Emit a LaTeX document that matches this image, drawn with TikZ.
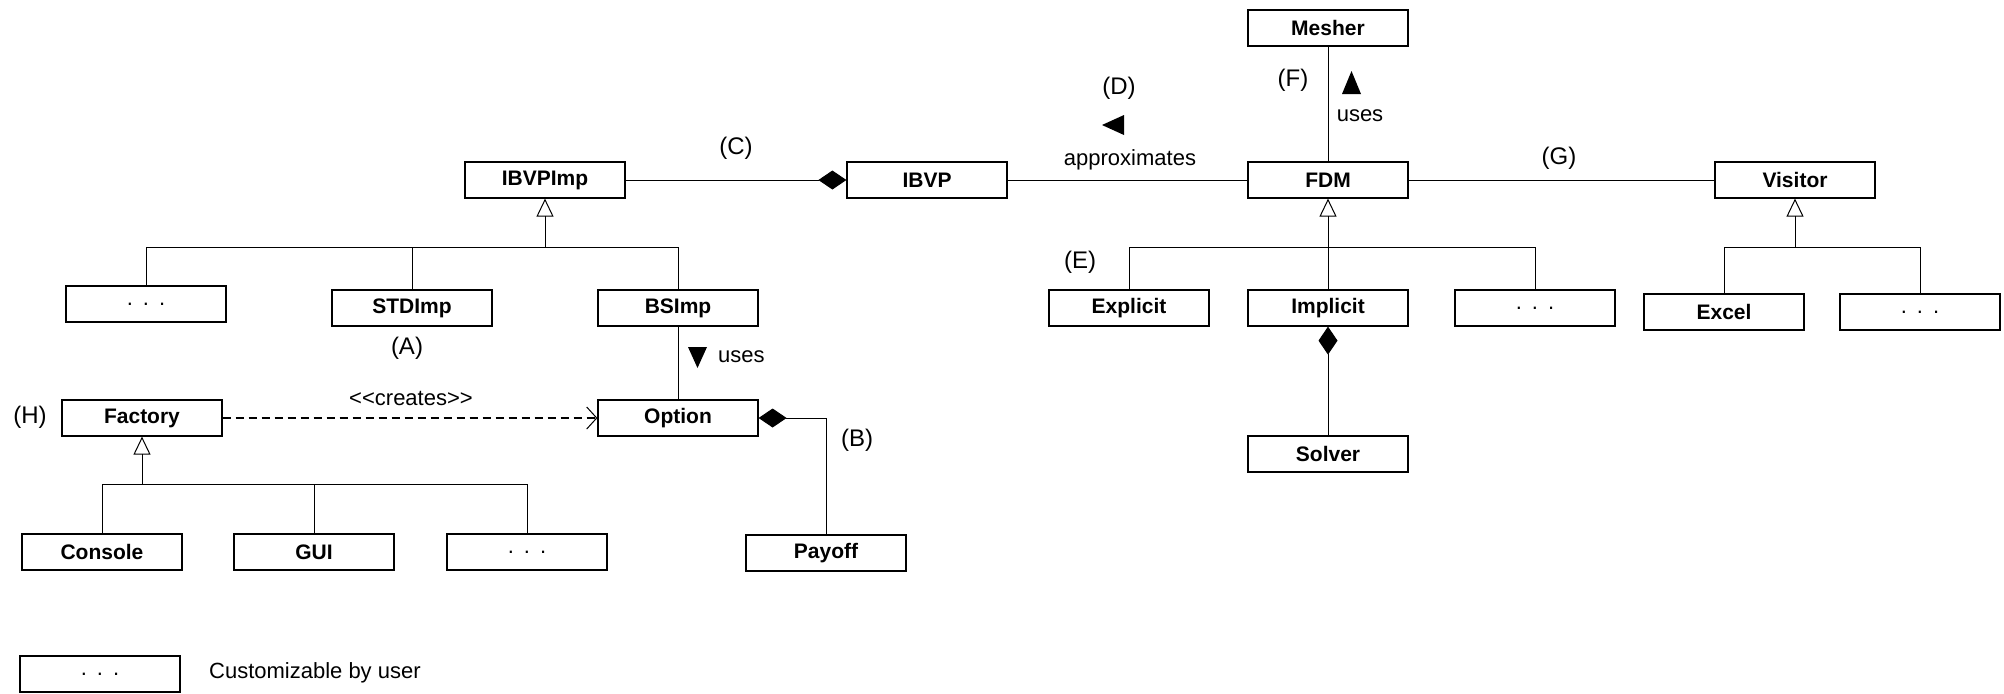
\documentclass[tikz,border=0pt]{standalone}
\usepackage{fontspec}
\setmainfont{Liberation Sans}
\usetikzlibrary{arrows.meta}

\newcommand{\userdots}{.\hspace{5pt}.\hspace{5pt}.}

\begin{document}
\begin{tikzpicture}[
    x=0.5pt, y=-0.5pt,
    line width=0.5pt,
    cls/.style={draw, line width=0.6pt, minimum width=80pt, minimum height=18pt, inner sep=0pt, font=\fontsize{10.5}{12}\selectfont\bfseries},
    usr/.style={cls, font=\fontsize{11}{13}\selectfont},
    tag/.style={font=\fontsize{12}{14}\selectfont},
    note/.style={font=\fontsize{11}{13}\selectfont},
    inherit/.style={-{Triangle[open, length=9pt, width=8.5pt]}},
    compose/.style={{Diamond[length=14pt, width=9.5pt]}-},
    creates/.style={dash pattern=on 4pt off 2.5pt, line width=1pt, -{Straight Barb[length=5pt, width=11pt, line width=0.5pt]}}
]
    \useasboundingbox (0,0) rectangle (2004,693);

    % Classes
    \node[cls] (mesher) at (1328,28) {Mesher};
    \node[cls] (ibvpimp) at (545,180) {IBVPImp};
    \node[cls] (ibvp) at (927,180) {IBVP};
    \node[cls] (fdm) at (1328,180) {FDM};
    \node[cls] (visitor) at (1795,180) {Visitor};

    \node[usr] (impdots) at (146,304) {\userdots};
    \node[cls] (stdimp) at (412,308) {STDImp};
    \node[cls] (bsimp) at (678,308) {BSImp};
    \node[cls] (explicit) at (1129,308) {Explicit};
    \node[cls] (implicit) at (1328,308) {Implicit};
    \node[usr] (fdmdots) at (1535,308) {\userdots};
    \node[cls] (excel) at (1724,312) {Excel};
    \node[usr] (visdots) at (1920,312) {\userdots};

    \node[cls] (factory) at (142,418) {Factory};
    \node[cls] (option) at (678,418) {Option};
    \node[cls] (solver) at (1328,454) {Solver};

    \node[cls] (console) at (102,552) {Console};
    \node[cls] (gui) at (314,552) {GUI};
    \node[usr] (facdots) at (527,552) {\userdots};
    \node[cls] (payoff) at (826,553) {Payoff};

    % Legend
    \node[usr] (legend) at (100,674) {\userdots};
    \node[note, anchor=west] (legendtext) at (202,673) {Customizable by user};

    % Inheritance
    \coordinate (impbus) at (545,247);
    \draw[inherit] (impbus) -- (ibvpimp.south);
    \draw (impdots.north) |- (impbus) -| (bsimp.north);
    \draw (stdimp.north) -- (stdimp.north |- impbus);

    \coordinate (fdmbus) at (1328,247);
    \draw[inherit] (implicit.north) -- (fdm.south);
    \draw (explicit.north) |- (fdmbus) -| (fdmdots.north);

    \coordinate (visbus) at (1795,247);
    \draw[inherit] (visbus) -- (visitor.south);
    \draw (excel.north) |- (visbus) -| (visdots.north);

    \coordinate (facbus) at (142,484);
    \draw[inherit] (facbus) -- (factory.south);
    \draw (console.north) |- (facbus) -| (facdots.north);
    \draw (gui.north) -- (gui.north |- facbus);

    % Associations
    \draw[compose] (ibvp.west) -- (ibvpimp.east);
    \draw (ibvp) -- (fdm);
    \draw (fdm) -- (visitor);
    \draw (mesher) -- (fdm);
    \draw (bsimp) -- (option);
    \draw[creates] (factory) -- (option);
    \draw[compose] (option.east) -| (payoff.north);
    \draw[compose] (implicit.south) -- (solver.north);

    % Direction marks
    \fill (688,347) -- (707,347) -- (697.5,368) -- cycle;
    \fill (1342,94) -- (1361,94) -- (1351.5,71) -- cycle;
    \fill (1102,125) -- (1124,115) -- (1124,135) -- cycle;

    % Labels
    \node[tag] (labC) at (736,148) {(C)};
    \node[tag] (labD) at (1119,88) {(D)};
    \node[note] (approx) at (1130,160) {approximates};
    \node[tag] (labF) at (1293,80) {(F)};
    \node[note] (usesF) at (1360,116) {uses};
    \node[tag] (labG) at (1559,158) {(G)};
    \node[tag] (labE) at (1080,262) {(E)};
    \node[tag] (labA) at (407,348) {(A)};
    \node[note, anchor=west] (usesB) at (711,357) {uses};
    \node[note] (createstext) at (411,398) {<\kern0pt<creates>\kern0pt>};
    \node[tag] (labH) at (30,417) {(H)};
    \node[tag] (labB) at (857,440) {(B)};

\end{tikzpicture}
\end{document}
